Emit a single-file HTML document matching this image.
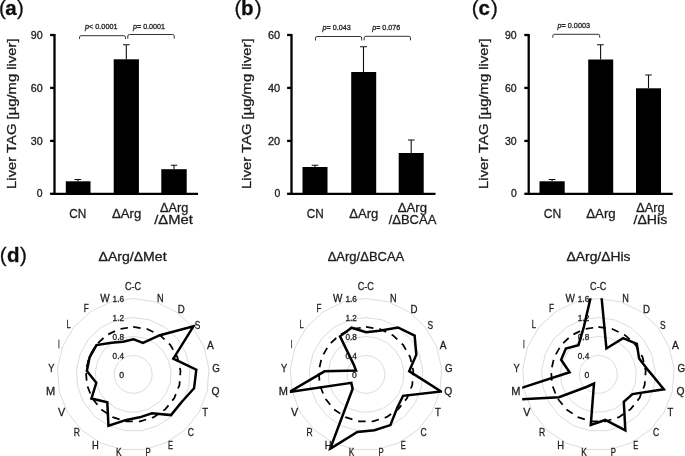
<!DOCTYPE html>
<html><head><meta charset="utf-8"><title>Figure</title>
<style>
html,body{margin:0;padding:0;background:#fff;}
svg{display:block;font-family:'Liberation Sans', 'DejaVu Sans', sans-serif;}
text{stroke:#222;stroke-width:0.3px;}
</style></head><body>
<svg width="685" height="456" viewBox="0 0 685 456">
<defs><filter id="soft" x="0" y="0" width="685" height="456" filterUnits="userSpaceOnUse"><feGaussianBlur stdDeviation="0.45"/></filter></defs>
<g filter="url(#soft)">
<rect width="685" height="456" fill="#fff"/>
<text y="14.80" font-size="20.5" fill="#111" stroke="none"><tspan x="-1.10">(</tspan><tspan x="5.30" font-weight="bold" stroke="#111" stroke-width="0.3">a</tspan><tspan x="17.10">)</tspan></text>
<path d="M54.50 34 V193.8 H198.00" fill="none" stroke="#000" stroke-width="2.3"/>
<path d="M50.10 35 H54.50" stroke="#000" stroke-width="2.3"/>
<path d="M50.10 87.9 H54.50" stroke="#000" stroke-width="2.3"/>
<path d="M50.10 140.9 H54.50" stroke="#000" stroke-width="2.3"/>
<path d="M50.10 193.8 H54.50" stroke="#000" stroke-width="2.3"/>
<text x="30.70" y="38.60" font-size="10.2" textLength="11.90" lengthAdjust="spacingAndGlyphs" fill="#1a1a1a" >90</text>
<text x="30.70" y="91.50" font-size="10.2" textLength="11.90" lengthAdjust="spacingAndGlyphs" fill="#1a1a1a" >60</text>
<text x="30.70" y="144.50" font-size="10.2" textLength="11.90" lengthAdjust="spacingAndGlyphs" fill="#1a1a1a" >30</text>
<text x="36.80" y="197.40" font-size="10.2" textLength="5.80" lengthAdjust="spacingAndGlyphs" fill="#1a1a1a" >0</text>
<text transform="translate(16.30 188.9) rotate(-90)" font-size="13" textLength="150.5" lengthAdjust="spacingAndGlyphs" fill="#1a1a1a">Liver TAG [µg/mg liver]</text>
<rect x="65.80" y="181.30" width="24.70" height="12.50" fill="#000"/>
<rect x="113.70" y="59.30" width="25.20" height="134.50" fill="#000"/>
<rect x="161.30" y="169.20" width="25.40" height="24.60" fill="#000"/>
<path d="M78.00 181.30 V179.50 M74.50 179.50 H81.20" stroke="#111" stroke-width="1.1" fill="none"/>
<path d="M126.30 59.30 V44.80 M123.00 44.80 H129.70" stroke="#111" stroke-width="1.1" fill="none"/>
<path d="M174.00 169.20 V165.30 M170.80 165.30 H177.20" stroke="#111" stroke-width="1.1" fill="none"/>
<path d="M79.50 39.00 V37.30 Q79.50 35.70 81.10 35.70 H123.90 Q125.50 35.70 125.50 37.30 V39.00" stroke="#333" stroke-width="1" fill="none"/>
<path d="M127.80 38.70 V36.10 Q127.80 34.50 129.40 34.50 H172.60 Q174.20 34.50 174.20 36.10 V38.70" stroke="#333" stroke-width="1" fill="none"/>
<text x="85.00" y="29.30" font-size="7.3" textLength="32.50" lengthAdjust="spacingAndGlyphs" fill="#2a2a2a" stroke="none"><tspan font-style="italic">p</tspan>&lt; 0.0001</text>
<text x="133.00" y="29.30" font-size="7.3" textLength="32.00" lengthAdjust="spacingAndGlyphs" fill="#2a2a2a" stroke="none"><tspan font-style="italic">p</tspan>= 0.0001</text>
<text x="69.20" y="218.00" font-size="13.7" textLength="17.10" lengthAdjust="spacingAndGlyphs" fill="#1a1a1a" >CN</text>
<text x="112.00" y="218.00" font-size="13.7" textLength="29.20" lengthAdjust="spacingAndGlyphs" fill="#1a1a1a" >ΔArg</text>
<text x="160.00" y="211.60" font-size="13.7" textLength="28.30" lengthAdjust="spacingAndGlyphs" fill="#1a1a1a" >ΔArg</text>
<text x="154.20" y="224.30" font-size="13.7" textLength="38.60" lengthAdjust="spacingAndGlyphs" fill="#1a1a1a" >/ΔMet</text>
<text y="14.80" font-size="20.5" fill="#111" stroke="none"><tspan x="234.40">(</tspan><tspan x="241.10" font-weight="bold" stroke="#111" stroke-width="0.3">b</tspan><tspan x="254.70">)</tspan></text>
<path d="M291.50 34 V193.8 H435.50" fill="none" stroke="#000" stroke-width="2.3"/>
<path d="M287.10 35 H291.50" stroke="#000" stroke-width="2.3"/>
<path d="M287.10 87.9 H291.50" stroke="#000" stroke-width="2.3"/>
<path d="M287.10 140.9 H291.50" stroke="#000" stroke-width="2.3"/>
<path d="M287.10 193.8 H291.50" stroke="#000" stroke-width="2.3"/>
<text x="268.00" y="38.60" font-size="10.2" textLength="12.20" lengthAdjust="spacingAndGlyphs" fill="#1a1a1a" >60</text>
<text x="268.00" y="91.50" font-size="10.2" textLength="12.20" lengthAdjust="spacingAndGlyphs" fill="#1a1a1a" >40</text>
<text x="268.00" y="144.50" font-size="10.2" textLength="12.20" lengthAdjust="spacingAndGlyphs" fill="#1a1a1a" >20</text>
<text x="274.40" y="197.40" font-size="10.2" textLength="5.80" lengthAdjust="spacingAndGlyphs" fill="#1a1a1a" >0</text>
<text transform="translate(251.00 188.9) rotate(-90)" font-size="13" textLength="150.5" lengthAdjust="spacingAndGlyphs" fill="#1a1a1a">Liver TAG [µg/mg liver]</text>
<rect x="302.50" y="167.00" width="25.00" height="26.80" fill="#000"/>
<rect x="351.20" y="72.00" width="25.00" height="121.80" fill="#000"/>
<rect x="398.70" y="153.00" width="25.00" height="40.80" fill="#000"/>
<path d="M315.00 167.00 V165.30 M311.70 165.30 H318.30" stroke="#111" stroke-width="1.1" fill="none"/>
<path d="M363.50 72.00 V46.80 M360.00 46.80 H367.00" stroke="#111" stroke-width="1.1" fill="none"/>
<path d="M411.20 153.00 V140.00 M408.00 140.00 H414.70" stroke="#111" stroke-width="1.1" fill="none"/>
<path d="M315.50 40.50 V38.10 Q315.50 36.50 317.10 36.50 H360.10 Q361.70 36.50 361.70 38.10 V40.50" stroke="#333" stroke-width="1" fill="none"/>
<path d="M364.20 40.30 V37.90 Q364.20 36.30 365.80 36.30 H408.90 Q410.50 36.30 410.50 37.90 V40.30" stroke="#333" stroke-width="1" fill="none"/>
<text x="322.50" y="29.90" font-size="7.3" textLength="28.30" lengthAdjust="spacingAndGlyphs" fill="#2a2a2a" stroke="none"><tspan font-style="italic">p</tspan>= 0.043</text>
<text x="372.20" y="29.90" font-size="7.3" textLength="28.10" lengthAdjust="spacingAndGlyphs" fill="#2a2a2a" stroke="none"><tspan font-style="italic">p</tspan>= 0.076</text>
<text x="306.70" y="218.00" font-size="13.7" textLength="17.00" lengthAdjust="spacingAndGlyphs" fill="#1a1a1a" >CN</text>
<text x="349.20" y="218.00" font-size="13.7" textLength="29.10" lengthAdjust="spacingAndGlyphs" fill="#1a1a1a" >ΔArg</text>
<text x="397.80" y="211.60" font-size="13.7" textLength="29.20" lengthAdjust="spacingAndGlyphs" fill="#1a1a1a" >ΔArg</text>
<text x="388.70" y="224.30" font-size="13.7" textLength="47.60" lengthAdjust="spacingAndGlyphs" fill="#1a1a1a" >/ΔBCAA</text>
<text y="14.80" font-size="20.5" fill="#111" stroke="none"><tspan x="471.80">(</tspan><tspan x="478.60" font-weight="bold" stroke="#111" stroke-width="0.3">c</tspan><tspan x="490.90">)</tspan></text>
<path d="M528.70 34 V193.8 H672.70" fill="none" stroke="#000" stroke-width="2.3"/>
<path d="M524.30 35 H528.70" stroke="#000" stroke-width="2.3"/>
<path d="M524.30 87.9 H528.70" stroke="#000" stroke-width="2.3"/>
<path d="M524.30 140.9 H528.70" stroke="#000" stroke-width="2.3"/>
<path d="M524.30 193.8 H528.70" stroke="#000" stroke-width="2.3"/>
<text x="505.00" y="38.60" font-size="10.2" textLength="11.70" lengthAdjust="spacingAndGlyphs" fill="#1a1a1a" >90</text>
<text x="505.00" y="91.50" font-size="10.2" textLength="11.70" lengthAdjust="spacingAndGlyphs" fill="#1a1a1a" >60</text>
<text x="505.00" y="144.50" font-size="10.2" textLength="11.70" lengthAdjust="spacingAndGlyphs" fill="#1a1a1a" >30</text>
<text x="510.90" y="197.40" font-size="10.2" textLength="5.80" lengthAdjust="spacingAndGlyphs" fill="#1a1a1a" >0</text>
<text transform="translate(488.30 188.9) rotate(-90)" font-size="13" textLength="150.5" lengthAdjust="spacingAndGlyphs" fill="#1a1a1a">Liver TAG [µg/mg liver]</text>
<rect x="539.50" y="181.30" width="25.20" height="12.50" fill="#000"/>
<rect x="588.20" y="59.50" width="25.00" height="134.30" fill="#000"/>
<rect x="636.00" y="88.30" width="25.00" height="105.50" fill="#000"/>
<path d="M552.10 181.30 V179.50 M548.70 179.50 H555.50" stroke="#111" stroke-width="1.1" fill="none"/>
<path d="M600.60 59.50 V44.80 M597.00 44.80 H603.80" stroke="#111" stroke-width="1.1" fill="none"/>
<path d="M648.50 88.30 V75.00 M645.20 75.00 H651.80" stroke="#111" stroke-width="1.1" fill="none"/>
<path d="M552.80 37.70 V35.90 Q552.80 34.30 554.40 34.30 H598.10 Q599.70 34.30 599.70 35.90 V37.70" stroke="#333" stroke-width="1" fill="none"/>
<text x="557.50" y="27.70" font-size="7.3" textLength="32.50" lengthAdjust="spacingAndGlyphs" fill="#2a2a2a" stroke="none"><tspan font-style="italic">p</tspan>= 0.0003</text>
<text x="543.70" y="218.00" font-size="13.7" textLength="17.50" lengthAdjust="spacingAndGlyphs" fill="#1a1a1a" >CN</text>
<text x="586.30" y="218.00" font-size="13.7" textLength="29.40" lengthAdjust="spacingAndGlyphs" fill="#1a1a1a" >ΔArg</text>
<text x="636.30" y="211.60" font-size="13.7" textLength="28.40" lengthAdjust="spacingAndGlyphs" fill="#1a1a1a" >ΔArg</text>
<text x="633.50" y="224.30" font-size="13.7" textLength="33.70" lengthAdjust="spacingAndGlyphs" fill="#1a1a1a" >/ΔHis</text>
<text y="262.10" font-size="20.5" fill="#111" stroke="none"><tspan x="-0.20">(</tspan><tspan x="6.90" font-weight="bold" stroke="#111" stroke-width="0.3">d</tspan><tspan x="20.10">)</tspan></text>
<text x="98.50" y="261.40" font-size="12.6" textLength="68.10" lengthAdjust="spacingAndGlyphs" fill="#1a1a1a" >ΔArg/ΔMet</text>
<polygon points="133.20,355.42 138.79,356.27 143.89,358.72 148.04,362.57 150.86,367.47 152.12,372.98 151.70,378.62 149.63,383.89 146.11,388.31 141.43,391.50 136.03,393.16 130.37,393.16 124.97,391.50 120.29,388.31 116.77,383.89 114.70,378.62 114.28,372.98 115.54,367.47 118.36,362.57 122.51,358.72 127.61,356.27" fill="none" stroke="#dcdcdc" stroke-width="1"/>
<polygon points="133.20,336.45 144.39,338.14 154.58,343.04 162.87,350.74 168.53,360.54 171.04,371.56 170.20,382.84 166.07,393.38 159.01,402.22 149.67,408.59 138.86,411.93 127.54,411.93 116.73,408.59 107.39,402.22 100.33,393.38 96.20,382.84 95.36,371.56 97.87,360.54 103.53,350.74 111.82,343.04 122.01,338.14" fill="none" stroke="#dcdcdc" stroke-width="1"/>
<polygon points="133.20,317.47 149.98,320.00 165.27,327.37 177.71,338.91 186.19,353.60 189.97,370.15 188.70,387.07 182.50,402.86 171.92,416.13 157.90,425.69 141.68,430.69 124.72,430.69 108.50,425.69 94.48,416.13 83.90,402.86 77.70,387.07 76.43,370.15 80.21,353.60 88.69,338.91 101.13,327.37 116.42,320.00" fill="none" stroke="#dcdcdc" stroke-width="1"/>
<polygon points="133.20,298.50 155.57,301.87 175.96,311.69 192.54,327.08 203.85,346.67 208.89,368.73 207.20,391.29 198.93,412.35 184.83,430.04 166.13,442.78 144.51,449.45 121.89,449.45 100.27,442.78 81.57,430.04 67.47,412.35 59.20,391.29 57.51,368.73 62.55,346.67 73.86,327.08 90.44,311.69 110.83,301.87" fill="none" stroke="#dcdcdc" stroke-width="1"/>
<text x="119.20" y="378.20" font-size="8.8" textLength="4.80" lengthAdjust="spacingAndGlyphs" fill="#1a1a1a" >0</text>
<text x="112.60" y="359.22" font-size="8.8" textLength="11.40" lengthAdjust="spacingAndGlyphs" fill="#1a1a1a" >0.4</text>
<text x="112.60" y="340.25" font-size="8.8" textLength="11.40" lengthAdjust="spacingAndGlyphs" fill="#1a1a1a" >0.8</text>
<text x="112.60" y="321.27" font-size="8.8" textLength="11.40" lengthAdjust="spacingAndGlyphs" fill="#1a1a1a" >1.2</text>
<text x="112.60" y="302.30" font-size="8.8" textLength="11.40" lengthAdjust="spacingAndGlyphs" fill="#1a1a1a" >1.6</text>
<polygon points="133.20,326.96 147.18,329.07 159.92,335.21 170.29,344.82 177.36,357.07 180.50,370.85 179.45,384.96 174.28,398.12 165.47,409.17 153.78,417.14 140.27,421.31 126.13,421.31 112.62,417.14 100.93,409.17 92.12,398.12 86.95,384.96 85.90,370.85 89.04,357.07 96.11,344.82 106.48,335.21 119.22,329.07" fill="none" stroke="#000" stroke-width="1.75" stroke-dasharray="7.5 6.03"/>
<clipPath id="cp1"><rect x="57.00" y="298.20" width="152.40" height="152.40"/></clipPath>
<polygon points="133.20,339.20 142.95,342.80 159.92,335.21 193.47,326.34 173.34,358.65 196.31,369.67 194.06,388.29 181.43,402.25 170.97,415.11 151.97,413.37 139.67,417.34 126.34,419.91 108.46,425.77 107.30,402.32 91.43,398.51 96.30,382.82 86.87,370.93 89.61,357.29 96.47,345.11 111.60,342.72 123.11,341.67" fill="none" stroke="#000" stroke-width="2.5" stroke-linejoin="miter" clip-path="url(#cp1)"/>
<text x="124.90" y="289.80" font-size="11.3" textLength="16.20" lengthAdjust="spacingAndGlyphs" fill="#1a1a1a" >C-C</text>
<text x="157.10" y="301.80" font-size="11.3" textLength="6.60" lengthAdjust="spacingAndGlyphs" fill="#1a1a1a" >N</text>
<text x="177.80" y="312.60" font-size="11.3" textLength="7.00" lengthAdjust="spacingAndGlyphs" fill="#1a1a1a" >D</text>
<text x="194.80" y="328.80" font-size="11.3" textLength="5.60" lengthAdjust="spacingAndGlyphs" fill="#1a1a1a" >S</text>
<text x="206.90" y="348.60" font-size="11.3" textLength="6.80" lengthAdjust="spacingAndGlyphs" fill="#1a1a1a" >A</text>
<text x="212.30" y="372.20" font-size="11.3" textLength="7.60" lengthAdjust="spacingAndGlyphs" fill="#1a1a1a" >G</text>
<text x="211.40" y="395.20" font-size="11.3" textLength="8.00" lengthAdjust="spacingAndGlyphs" fill="#1a1a1a" >Q</text>
<text x="202.30" y="416.40" font-size="11.3" textLength="5.80" lengthAdjust="spacingAndGlyphs" fill="#1a1a1a" >T</text>
<text x="187.70" y="436.10" font-size="11.3" textLength="6.20" lengthAdjust="spacingAndGlyphs" fill="#1a1a1a" >C</text>
<text x="168.00" y="449.00" font-size="11.3" textLength="5.00" lengthAdjust="spacingAndGlyphs" fill="#1a1a1a" >E</text>
<text x="145.60" y="456.00" font-size="11.3" textLength="5.20" lengthAdjust="spacingAndGlyphs" fill="#1a1a1a" >P</text>
<text x="116.00" y="456.00" font-size="11.3" textLength="5.60" lengthAdjust="spacingAndGlyphs" fill="#1a1a1a" >K</text>
<text x="92.00" y="448.60" font-size="11.3" textLength="6.80" lengthAdjust="spacingAndGlyphs" fill="#1a1a1a" >H</text>
<text x="73.70" y="436.00" font-size="11.3" textLength="6.20" lengthAdjust="spacingAndGlyphs" fill="#1a1a1a" >R</text>
<text x="58.10" y="416.20" font-size="11.3" textLength="7.20" lengthAdjust="spacingAndGlyphs" fill="#1a1a1a" >V</text>
<text x="46.00" y="395.20" font-size="11.3" textLength="9.20" lengthAdjust="spacingAndGlyphs" fill="#1a1a1a" >M</text>
<text x="48.20" y="371.60" font-size="11.3" textLength="6.20" lengthAdjust="spacingAndGlyphs" fill="#1a1a1a" >Y</text>
<text x="57.90" y="348.40" font-size="11.3" textLength="1.80" lengthAdjust="spacingAndGlyphs" fill="#1a1a1a" >I</text>
<text x="66.60" y="328.40" font-size="11.3" textLength="4.20" lengthAdjust="spacingAndGlyphs" fill="#1a1a1a" >L</text>
<text x="83.70" y="312.00" font-size="11.3" textLength="5.00" lengthAdjust="spacingAndGlyphs" fill="#1a1a1a" >F</text>
<text x="100.30" y="301.80" font-size="11.3" textLength="9.40" lengthAdjust="spacingAndGlyphs" fill="#1a1a1a" >W</text>
<text x="327.70" y="261.40" font-size="12.6" textLength="76.60" lengthAdjust="spacingAndGlyphs" fill="#1a1a1a" >ΔArg/ΔBCAA</text>
<polygon points="366.00,355.42 371.59,356.27 376.69,358.72 380.84,362.57 383.66,367.47 384.92,372.98 384.50,378.62 382.43,383.89 378.91,388.31 374.23,391.50 368.83,393.16 363.17,393.16 357.77,391.50 353.09,388.31 349.57,383.89 347.50,378.62 347.08,372.98 348.34,367.47 351.16,362.57 355.31,358.72 360.41,356.27" fill="none" stroke="#dcdcdc" stroke-width="1"/>
<polygon points="366.00,336.45 377.19,338.14 387.38,343.04 395.67,350.74 401.33,360.54 403.84,371.56 403.00,382.84 398.87,393.38 391.81,402.22 382.47,408.59 371.66,411.93 360.34,411.93 349.53,408.59 340.19,402.22 333.13,393.38 329.00,382.84 328.16,371.56 330.67,360.54 336.33,350.74 344.62,343.04 354.81,338.14" fill="none" stroke="#dcdcdc" stroke-width="1"/>
<polygon points="366.00,317.47 382.78,320.00 398.07,327.37 410.51,338.91 418.99,353.60 422.77,370.15 421.50,387.07 415.30,402.86 404.72,416.13 390.70,425.69 374.48,430.69 357.52,430.69 341.30,425.69 327.28,416.13 316.70,402.86 310.50,387.07 309.23,370.15 313.01,353.60 321.49,338.91 333.93,327.37 349.22,320.00" fill="none" stroke="#dcdcdc" stroke-width="1"/>
<polygon points="366.00,298.50 388.37,301.87 408.76,311.69 425.34,327.08 436.65,346.67 441.69,368.73 440.00,391.29 431.73,412.35 417.63,430.04 398.93,442.78 377.31,449.45 354.69,449.45 333.07,442.78 314.37,430.04 300.27,412.35 292.00,391.29 290.31,368.73 295.35,346.67 306.66,327.08 323.24,311.69 343.63,301.87" fill="none" stroke="#dcdcdc" stroke-width="1"/>
<text x="352.00" y="378.20" font-size="8.8" textLength="4.80" lengthAdjust="spacingAndGlyphs" fill="#1a1a1a" >0</text>
<text x="345.40" y="359.22" font-size="8.8" textLength="11.40" lengthAdjust="spacingAndGlyphs" fill="#1a1a1a" >0.4</text>
<text x="345.40" y="340.25" font-size="8.8" textLength="11.40" lengthAdjust="spacingAndGlyphs" fill="#1a1a1a" >0.8</text>
<text x="345.40" y="321.27" font-size="8.8" textLength="11.40" lengthAdjust="spacingAndGlyphs" fill="#1a1a1a" >1.2</text>
<text x="345.40" y="302.30" font-size="8.8" textLength="11.40" lengthAdjust="spacingAndGlyphs" fill="#1a1a1a" >1.6</text>
<polygon points="366.00,326.96 379.98,329.07 392.72,335.21 403.09,344.82 410.16,357.07 413.30,370.85 412.25,384.96 407.08,398.12 398.27,409.17 386.58,417.14 373.07,421.31 358.93,421.31 345.42,417.14 333.73,409.17 324.92,398.12 319.75,384.96 318.70,370.85 321.84,357.07 328.91,344.82 339.28,335.21 352.02,329.07" fill="none" stroke="#000" stroke-width="1.75" stroke-dasharray="7.5 6.03"/>
<clipPath id="cp2"><rect x="289.80" y="298.20" width="152.40" height="152.40"/></clipPath>
<polygon points="366.00,332.20 379.44,330.81 397.98,327.49 414.63,335.62 416.32,354.65 409.18,371.16 441.11,391.54 403.07,395.80 397.13,407.95 390.41,425.09 374.41,430.17 357.31,432.06 330.13,448.88 352.63,388.81 351.33,382.87 289.34,391.90 324.59,371.30 356.03,370.49 353.73,364.61 340.02,336.30 351.60,327.71" fill="none" stroke="#000" stroke-width="2.5" stroke-linejoin="miter" clip-path="url(#cp2)"/>
<text x="357.70" y="289.80" font-size="11.3" textLength="16.20" lengthAdjust="spacingAndGlyphs" fill="#1a1a1a" >C-C</text>
<text x="389.90" y="301.80" font-size="11.3" textLength="6.60" lengthAdjust="spacingAndGlyphs" fill="#1a1a1a" >N</text>
<text x="410.60" y="312.60" font-size="11.3" textLength="7.00" lengthAdjust="spacingAndGlyphs" fill="#1a1a1a" >D</text>
<text x="427.60" y="328.80" font-size="11.3" textLength="5.60" lengthAdjust="spacingAndGlyphs" fill="#1a1a1a" >S</text>
<text x="439.70" y="348.60" font-size="11.3" textLength="6.80" lengthAdjust="spacingAndGlyphs" fill="#1a1a1a" >A</text>
<text x="445.10" y="372.20" font-size="11.3" textLength="7.60" lengthAdjust="spacingAndGlyphs" fill="#1a1a1a" >G</text>
<text x="444.20" y="395.20" font-size="11.3" textLength="8.00" lengthAdjust="spacingAndGlyphs" fill="#1a1a1a" >Q</text>
<text x="435.10" y="416.40" font-size="11.3" textLength="5.80" lengthAdjust="spacingAndGlyphs" fill="#1a1a1a" >T</text>
<text x="420.50" y="436.10" font-size="11.3" textLength="6.20" lengthAdjust="spacingAndGlyphs" fill="#1a1a1a" >C</text>
<text x="400.80" y="449.00" font-size="11.3" textLength="5.00" lengthAdjust="spacingAndGlyphs" fill="#1a1a1a" >E</text>
<text x="378.40" y="456.00" font-size="11.3" textLength="5.20" lengthAdjust="spacingAndGlyphs" fill="#1a1a1a" >P</text>
<text x="348.80" y="456.00" font-size="11.3" textLength="5.60" lengthAdjust="spacingAndGlyphs" fill="#1a1a1a" >K</text>
<text x="324.80" y="448.60" font-size="11.3" textLength="6.80" lengthAdjust="spacingAndGlyphs" fill="#1a1a1a" >H</text>
<text x="306.50" y="436.00" font-size="11.3" textLength="6.20" lengthAdjust="spacingAndGlyphs" fill="#1a1a1a" >R</text>
<text x="290.90" y="416.20" font-size="11.3" textLength="7.20" lengthAdjust="spacingAndGlyphs" fill="#1a1a1a" >V</text>
<text x="278.80" y="395.20" font-size="11.3" textLength="9.20" lengthAdjust="spacingAndGlyphs" fill="#1a1a1a" >M</text>
<text x="281.00" y="371.60" font-size="11.3" textLength="6.20" lengthAdjust="spacingAndGlyphs" fill="#1a1a1a" >Y</text>
<text x="290.70" y="348.40" font-size="11.3" textLength="1.80" lengthAdjust="spacingAndGlyphs" fill="#1a1a1a" >I</text>
<text x="299.40" y="328.40" font-size="11.3" textLength="4.20" lengthAdjust="spacingAndGlyphs" fill="#1a1a1a" >L</text>
<text x="316.50" y="312.00" font-size="11.3" textLength="5.00" lengthAdjust="spacingAndGlyphs" fill="#1a1a1a" >F</text>
<text x="333.10" y="301.80" font-size="11.3" textLength="9.40" lengthAdjust="spacingAndGlyphs" fill="#1a1a1a" >W</text>
<text x="566.50" y="261.40" font-size="12.6" textLength="64.00" lengthAdjust="spacingAndGlyphs" fill="#1a1a1a" >ΔArg/ΔHis</text>
<polygon points="598.40,355.42 603.99,356.27 609.09,358.72 613.24,362.57 616.06,367.47 617.32,372.98 616.90,378.62 614.83,383.89 611.31,388.31 606.63,391.50 601.23,393.16 595.57,393.16 590.17,391.50 585.49,388.31 581.97,383.89 579.90,378.62 579.48,372.98 580.74,367.47 583.56,362.57 587.71,358.72 592.81,356.27" fill="none" stroke="#dcdcdc" stroke-width="1"/>
<polygon points="598.40,336.45 609.59,338.14 619.78,343.04 628.07,350.74 633.73,360.54 636.24,371.56 635.40,382.84 631.27,393.38 624.21,402.22 614.87,408.59 604.06,411.93 592.74,411.93 581.93,408.59 572.59,402.22 565.53,393.38 561.40,382.84 560.56,371.56 563.07,360.54 568.73,350.74 577.02,343.04 587.21,338.14" fill="none" stroke="#dcdcdc" stroke-width="1"/>
<polygon points="598.40,317.47 615.18,320.00 630.47,327.37 642.91,338.91 651.39,353.60 655.17,370.15 653.90,387.07 647.70,402.86 637.12,416.13 623.10,425.69 606.88,430.69 589.92,430.69 573.70,425.69 559.68,416.13 549.10,402.86 542.90,387.07 541.63,370.15 545.41,353.60 553.89,338.91 566.33,327.37 581.62,320.00" fill="none" stroke="#dcdcdc" stroke-width="1"/>
<polygon points="598.40,298.50 620.77,301.87 641.16,311.69 657.74,327.08 669.05,346.67 674.09,368.73 672.40,391.29 664.13,412.35 650.03,430.04 631.33,442.78 609.71,449.45 587.09,449.45 565.47,442.78 546.77,430.04 532.67,412.35 524.40,391.29 522.71,368.73 527.75,346.67 539.06,327.08 555.64,311.69 576.03,301.87" fill="none" stroke="#dcdcdc" stroke-width="1"/>
<text x="584.40" y="378.20" font-size="8.8" textLength="4.80" lengthAdjust="spacingAndGlyphs" fill="#1a1a1a" >0</text>
<text x="577.80" y="359.22" font-size="8.8" textLength="11.40" lengthAdjust="spacingAndGlyphs" fill="#1a1a1a" >0.4</text>
<text x="577.80" y="340.25" font-size="8.8" textLength="11.40" lengthAdjust="spacingAndGlyphs" fill="#1a1a1a" >0.8</text>
<text x="577.80" y="321.27" font-size="8.8" textLength="11.40" lengthAdjust="spacingAndGlyphs" fill="#1a1a1a" >1.2</text>
<text x="577.80" y="302.30" font-size="8.8" textLength="11.40" lengthAdjust="spacingAndGlyphs" fill="#1a1a1a" >1.6</text>
<polygon points="598.40,326.96 612.38,329.07 625.12,335.21 635.49,344.82 642.56,357.07 645.70,370.85 644.65,384.96 639.48,398.12 630.67,409.17 618.98,417.14 605.47,421.31 591.33,421.31 577.82,417.14 566.13,409.17 557.32,398.12 552.15,384.96 551.10,370.85 554.24,357.07 561.31,344.82 571.68,335.21 584.42,329.07" fill="none" stroke="#000" stroke-width="1.75" stroke-dasharray="7.5 6.03"/>
<clipPath id="cp3"><rect x="522.20" y="298.20" width="152.40" height="152.40"/></clipPath>
<polygon points="598.40,264.00 606.41,348.45 623.09,338.19 636.78,343.80 639.13,358.42 648.53,370.64 663.83,389.33 632.51,394.09 623.80,401.78 625.35,430.36 605.27,419.98 590.78,424.93 594.00,383.54 586.96,386.72 558.98,397.16 479.51,401.54 569.60,372.24 561.12,359.77 565.86,348.45 578.44,345.12 583.80,327.07" fill="none" stroke="#000" stroke-width="2.5" stroke-linejoin="miter" clip-path="url(#cp3)"/>
<text x="590.10" y="289.80" font-size="11.3" textLength="16.20" lengthAdjust="spacingAndGlyphs" fill="#1a1a1a" >C-C</text>
<text x="622.30" y="301.80" font-size="11.3" textLength="6.60" lengthAdjust="spacingAndGlyphs" fill="#1a1a1a" >N</text>
<text x="643.00" y="312.60" font-size="11.3" textLength="7.00" lengthAdjust="spacingAndGlyphs" fill="#1a1a1a" >D</text>
<text x="660.00" y="328.80" font-size="11.3" textLength="5.60" lengthAdjust="spacingAndGlyphs" fill="#1a1a1a" >S</text>
<text x="672.10" y="348.60" font-size="11.3" textLength="6.80" lengthAdjust="spacingAndGlyphs" fill="#1a1a1a" >A</text>
<text x="677.50" y="372.20" font-size="11.3" textLength="7.60" lengthAdjust="spacingAndGlyphs" fill="#1a1a1a" >G</text>
<text x="676.60" y="395.20" font-size="11.3" textLength="8.00" lengthAdjust="spacingAndGlyphs" fill="#1a1a1a" >Q</text>
<text x="667.50" y="416.40" font-size="11.3" textLength="5.80" lengthAdjust="spacingAndGlyphs" fill="#1a1a1a" >T</text>
<text x="652.90" y="436.10" font-size="11.3" textLength="6.20" lengthAdjust="spacingAndGlyphs" fill="#1a1a1a" >C</text>
<text x="633.20" y="449.00" font-size="11.3" textLength="5.00" lengthAdjust="spacingAndGlyphs" fill="#1a1a1a" >E</text>
<text x="610.80" y="456.00" font-size="11.3" textLength="5.20" lengthAdjust="spacingAndGlyphs" fill="#1a1a1a" >P</text>
<text x="581.20" y="456.00" font-size="11.3" textLength="5.60" lengthAdjust="spacingAndGlyphs" fill="#1a1a1a" >K</text>
<text x="557.20" y="448.60" font-size="11.3" textLength="6.80" lengthAdjust="spacingAndGlyphs" fill="#1a1a1a" >H</text>
<text x="538.90" y="436.00" font-size="11.3" textLength="6.20" lengthAdjust="spacingAndGlyphs" fill="#1a1a1a" >R</text>
<text x="523.30" y="416.20" font-size="11.3" textLength="7.20" lengthAdjust="spacingAndGlyphs" fill="#1a1a1a" >V</text>
<text x="511.20" y="395.20" font-size="11.3" textLength="9.20" lengthAdjust="spacingAndGlyphs" fill="#1a1a1a" >M</text>
<text x="513.40" y="371.60" font-size="11.3" textLength="6.20" lengthAdjust="spacingAndGlyphs" fill="#1a1a1a" >Y</text>
<text x="523.10" y="348.40" font-size="11.3" textLength="1.80" lengthAdjust="spacingAndGlyphs" fill="#1a1a1a" >I</text>
<text x="531.80" y="328.40" font-size="11.3" textLength="4.20" lengthAdjust="spacingAndGlyphs" fill="#1a1a1a" >L</text>
<text x="548.90" y="312.00" font-size="11.3" textLength="5.00" lengthAdjust="spacingAndGlyphs" fill="#1a1a1a" >F</text>
<text x="565.50" y="301.80" font-size="11.3" textLength="9.40" lengthAdjust="spacingAndGlyphs" fill="#1a1a1a" >W</text>
</g>
</svg>
</body></html>
